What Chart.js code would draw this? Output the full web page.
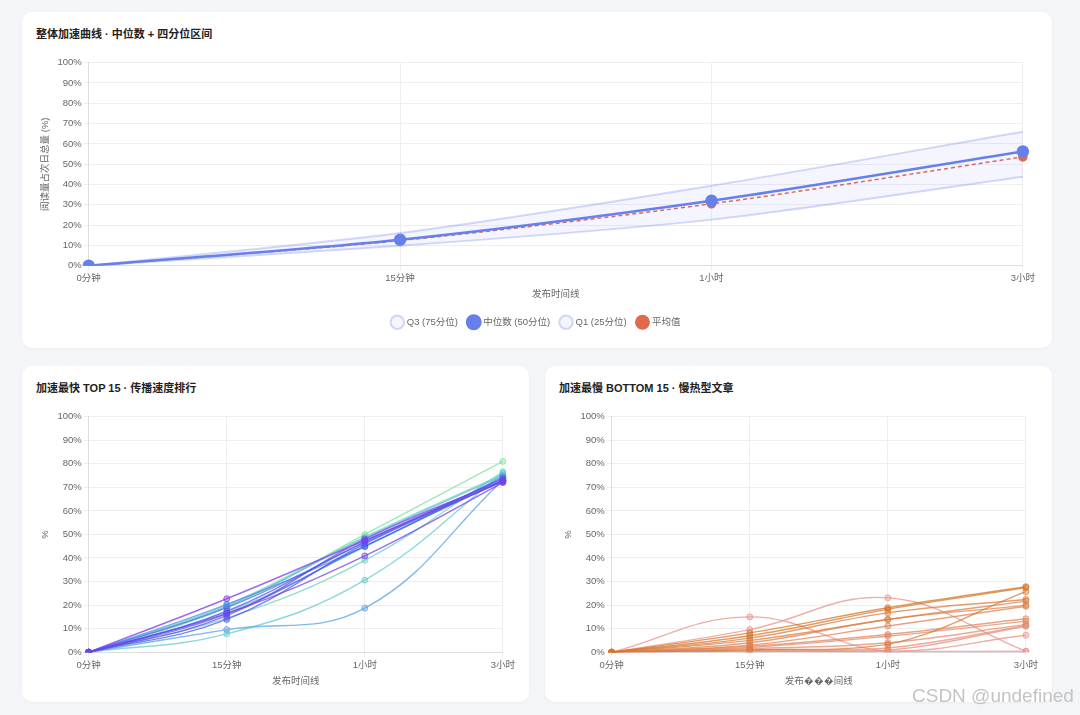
<!DOCTYPE html>
<html>
<head>
<meta charset="utf-8">
<script src="https://cdn.jsdelivr.net/npm/chart.js@4.4.1/dist/chart.umd.min.js"></script>
<style>
  html, body { margin: 0; padding: 0; }
  body { width: 1080px; height: 715px; background: #f4f5f9; position: relative; overflow: hidden;
         font-family: 'Liberation Sans', 'Noto Sans CJK SC', sans-serif; }
  .card { position: absolute; background: #fff; border-radius: 10px; box-shadow: 0 1px 3px rgba(0,0,0,0.04); }
  .title { position: absolute; font-size: 11px; font-weight: 700; color: #222; line-height: 14px; white-space: nowrap; }
  .box { position: absolute; }
  .mark { position: absolute; left: 912px; top: 685px; font-size: 19px; line-height: 22px; color: #c4c4c4; font-family: 'Liberation Sans', sans-serif; }
</style>
</head>
<body>
<div class="card" style="left:22px;top:12px;width:1030px;height:336px;">
  <div class="title" style="left:14px;top:15px;">整体加速曲线 · 中位数 + 四分位区间</div>
  <div class="box" style="left:14px;top:43px;width:1001px;height:282px;"><canvas id="overall"></canvas></div>
</div>
<div class="card" style="left:22px;top:366px;width:507px;height:336px;">
  <div class="title" style="left:14px;top:15px;">加速最快 TOP 15 · 传播速度排行</div>
  <div class="box" style="left:14px;top:43px;width:481px;height:280px;"><canvas id="fast"></canvas></div>
</div>
<div class="card" style="left:545px;top:366px;width:507px;height:336px;">
  <div class="title" style="left:14px;top:15px;">加速最慢 BOTTOM 15 · 慢热型文章</div>
  <div class="box" style="left:14px;top:43px;width:481px;height:280px;"><canvas id="slow"></canvas></div>
</div>
<div class="mark">CSDN @undefined</div>

<script>
// time points on the x axis
var timeLabels = ['0分钟', '15分钟', '1小时', '3小时'];

// overall curve (share of next-day total, %)
var q3Values = [0, 16.1, 39.4, 66];
var medianValues = [0, 12.8, 32, 56.3];
var q1Values = [0, 9.8, 22.7, 43.8];
var meanValues = [0, 12.4, 30.5, 53.6];

// top 15 fastest articles
var fastSeries = [
  [0, 22.7, 47.5, 72.5],
  [0, 16.5, 40.9, 72],
  [0, 15.5, 48, 73],
  [0, 17.4, 47, 73.5],
  [0, 13.9, 46, 72.5],
  [0, 16.3, 45, 73],
  [0, 18.9, 46.5, 74],
  [0, 20.3, 45, 74.5],
  [0, 9.6, 18.7, 73],
  [0, 19.5, 48.5, 75],
  [0, 17, 44.7, 74.2],
  [0, 7.8, 30.6, 76],
  [0, 14.5, 39, 76.6],
  [0, 20, 49, 75.5],
  [0, 19, 50, 81]
];

// bottom 15 slowest articles
var slowSeries = [
  [0, 8.2, 18.9, 27.8],
  [0, 7, 18.2, 27.4],
  [0, 1, 3.3, 25.7],
  [0, 6, 16.7, 22.4],
  [0, 5, 13.9, 21.7],
  [0, 4, 13.9, 19.9],
  [0, 3, 11.1, 19.5],
  [0, 2.5, 7.5, 14.2],
  [0, 2, 6.8, 13.2],
  [0, 1.5, 4, 11.8],
  [0, 1, 1.8, 11.3],
  [0, 0.5, 0.8, 11],
  [0, 15, 0.5, 7.2],
  [0, 9.6, 23.1, 0.4],
  [0, 0.3, 0.3, 0.4]
];

Chart.defaults.font.family = "'Liberation Sans', 'Noto Sans CJK SC', sans-serif";
Chart.defaults.font.size = 9.5;
Chart.defaults.color = '#666';
Chart.defaults.animation = false;

function pct(v) { return v + '%'; }

function axes(yTitle, xTitle, titleGap) {
  return {
    x: {
      grid: { color: '#eeeeee', tickLength: 5 },
      border: { color: '#dddddd' },
      ticks: { color: '#666', padding: 2 },
      title: { display: true, text: xTitle, color: '#666', padding: { top: 3, bottom: titleGap } }
    },
    y: {
      min: 0, max: 100,
      grid: { color: '#eeeeee', tickLength: 5 },
      border: { color: '#dddddd' },
      ticks: { stepSize: 10, callback: pct, color: '#666', padding: 2 },
      title: { display: true, text: yTitle, color: '#666' }
    }
  };
}

new Chart(document.getElementById('overall'), {
  type: 'line',
  data: {
    labels: timeLabels,
    datasets: [
      {
        label: 'Q3 (75分位)', data: q3Values,
        borderColor: 'rgba(110,130,240,0.3)', backgroundColor: 'rgba(110,130,240,0.08)',
        borderWidth: 2, pointRadius: 0, tension: 0.3, fill: '+2'
      },
      {
        label: '中位数 (50分位)', data: medianValues,
        borderColor: '#6680ea', backgroundColor: '#6680ea',
        borderWidth: 2.5, pointRadius: 5, tension: 0.3, fill: false
      },
      {
        label: 'Q1 (25分位)', data: q1Values,
        borderColor: 'rgba(110,130,240,0.3)', backgroundColor: 'rgba(110,130,240,0.08)',
        borderWidth: 2, pointRadius: 0, tension: 0.3, fill: false
      },
      {
        label: '平均值', data: meanValues,
        borderColor: '#e06a4a', backgroundColor: '#e06a4a',
        borderWidth: 1.5, borderDash: [4, 3], pointRadius: 4, tension: 0.3, fill: false,
        order: 1
      }
    ]
  },
  options: {
    responsive: true, maintainAspectRatio: false,
    plugins: {
      legend: {
        position: 'bottom',
        labels: { usePointStyle: true, pointStyle: 'circle', boxWidth: 12, boxHeight: 12, padding: 11, color: '#666' }
      },
      tooltip: { enabled: false }
    },
    scales: axes('阅读量占次日总量 (%)', '发布时间线', 6)
  }
});

function mix(a, b, t) {
  return a.map(function (v, i) { return Math.round(v + (b[i] - v) * t); });
}

function fastColor(i) {
  var stops = [[124, 58, 237], [72, 92, 230], [90, 190, 230], [125, 225, 160]];
  var t = i / (fastSeries.length - 1) * (stops.length - 1);
  var k = Math.min(Math.floor(t), stops.length - 2);
  return mix(stops[k], stops[k + 1], t - k);
}

function slowColor(i) {
  return mix([212, 118, 38], [236, 150, 150], i / (slowSeries.length - 1));
}

function groupDatasets(rows, colorFn) {
  return rows.map(function (row, i) {
    var c = colorFn(i).join(',');
    return {
      data: row,
      borderColor: 'rgba(' + c + ',0.75)',
      backgroundColor: 'rgba(' + c + ',0.4)',
      pointBorderColor: 'rgba(' + c + ',0.7)',
      borderWidth: 1.4,
      pointRadius: 3,
      pointBorderWidth: 1,
      tension: 0.4,
      fill: false
    };
  });
}

function smallOptions(xTitle) {
  return {
    responsive: true, maintainAspectRatio: false,
    plugins: { legend: { display: false }, tooltip: { enabled: false } },
    scales: axes('%', xTitle, 2)
  };
}

new Chart(document.getElementById('fast'), {
  type: 'line',
  data: { labels: timeLabels, datasets: groupDatasets(fastSeries, fastColor) },
  options: smallOptions('发布时间线')
});

new Chart(document.getElementById('slow'), {
  type: 'line',
  data: { labels: timeLabels, datasets: groupDatasets(slowSeries, slowColor) },
  options: smallOptions('发布\uFFFD\uFFFD\uFFFD间线')
});
</script>
</body>
</html>
